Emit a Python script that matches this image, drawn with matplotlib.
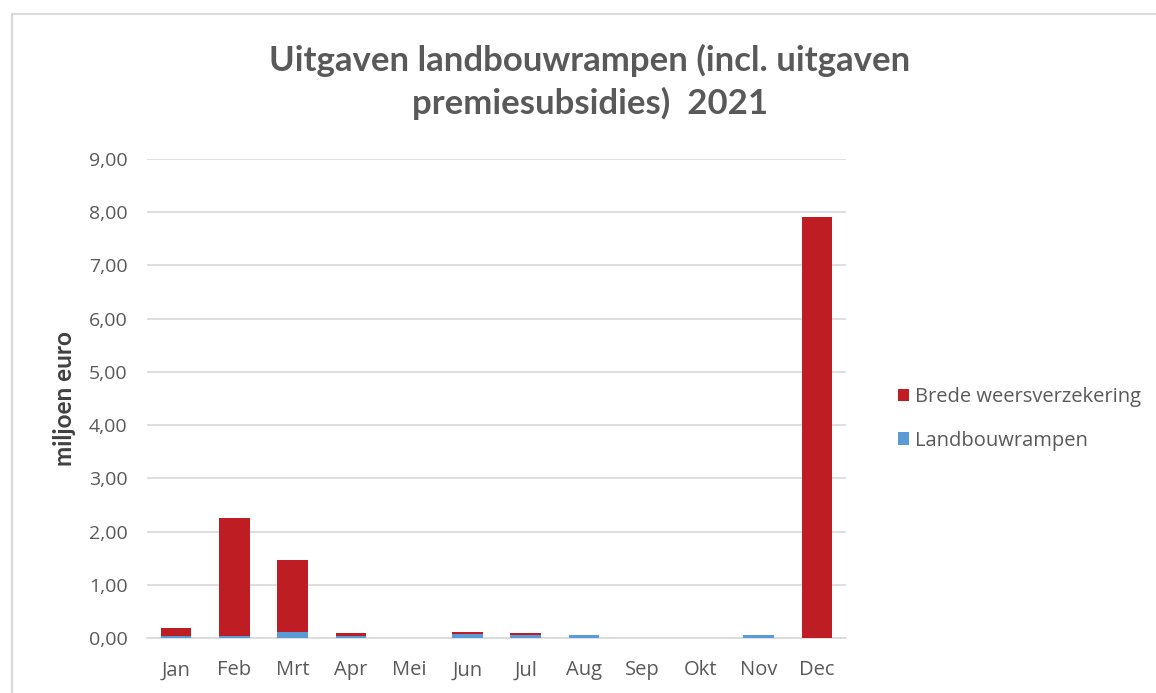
import matplotlib
matplotlib.use("Agg")
import matplotlib.pyplot as plt
from matplotlib.patches import Rectangle
from matplotlib.ticker import FuncFormatter

months = ["Jan", "Feb", "Mrt", "Apr", "Mei", "Jun", "Jul", "Aug", "Sep", "Okt", "Nov", "Dec"]
landbouwrampen = [0.03, 0.03, 0.12, 0.03, 0.0, 0.08, 0.06, 0.05, 0.0, 0.0, 0.05, 0.0]
brede_weersverzekering = [0.15, 2.22, 1.35, 0.06, 0.0, 0.03, 0.03, 0.0, 0.0, 0.0, 0.0, 7.91]

plt.rcParams['font.family'] = ['Open Sans', 'DejaVu Sans']
W, H = 1156, 693
fig = plt.figure(figsize=(W / 100, H / 100), dpi=100)
fig.patch.set_facecolor("white")

# chart border
fig.patches.append(Rectangle((12 / W, -0.05), 1.1, 1 - 14 / H + 0.05, transform=fig.transFigure,
                             fill=False, edgecolor="#D9D9D9", linewidth=1.5))

ax = fig.add_axes([147 / W, 1 - 638 / H, (846 - 147) / W, (638 - 159) / H])
x = list(range(len(months)))
ax.bar(x, landbouwrampen, width=0.52, color="#5B9BD5", label="Landbouwrampen", zorder=3)
ax.bar(x, brede_weersverzekering, width=0.52, bottom=landbouwrampen, color="#BE1E23",
       label="Brede weersverzekering", zorder=3)

ax.set_ylim(0, 9)
ax.set_xlim(-0.5, 11.5)
ax.set_yticks(range(0, 10))
ax.yaxis.set_major_formatter(FuncFormatter(lambda v, p: f"{v:.2f}".replace(".", ",")))
ax.set_xticks(x)
ax.set_xticklabels(months)
ax.grid(axis="y", color="#D9D9D9", linewidth=1.2, zorder=0)
for s in ["top", "right", "left"]:
    ax.spines[s].set_visible(False)
ax.spines["bottom"].set_color("#D9D9D9")
ax.spines["bottom"].set_linewidth(1.2)
ax.tick_params(axis="both", length=0, labelsize=14, labelcolor="#595959")
ax.tick_params(axis="x", labelsize=14.5, pad=16)
ax.tick_params(axis="y", pad=14)
ax.set_ylabel("miljoen euro", fontsize=17.5, fontweight="bold", color="#404040", labelpad=9,
              family=['Lato', 'DejaVu Sans'])

fig.text(590 / W, 1 - 60 / H, "Uitgaven landbouwrampen (incl. uitgaven", ha="center", va="center",
         fontsize=25, fontweight="bold", color="#595959", family=['Lato', 'DejaVu Sans'])
fig.text(590 / W, 1 - 103 / H, "premiesubsidies)  2021", ha="center", va="center",
         fontsize=25, fontweight="bold", color="#595959", family=['Lato', 'DejaVu Sans'])

handles, labels = ax.get_legend_handles_labels()
leg = fig.legend(handles[::-1], labels[::-1], loc="center left", bbox_to_anchor=(880 / W, 1 - 419 / H),
                 frameon=False, fontsize=14.5, handlelength=0.55, handleheight=0.55, handletextpad=0.3,
                 labelspacing=1.15, labelcolor="#595959")

fig.savefig("out.png", dpi=100)
